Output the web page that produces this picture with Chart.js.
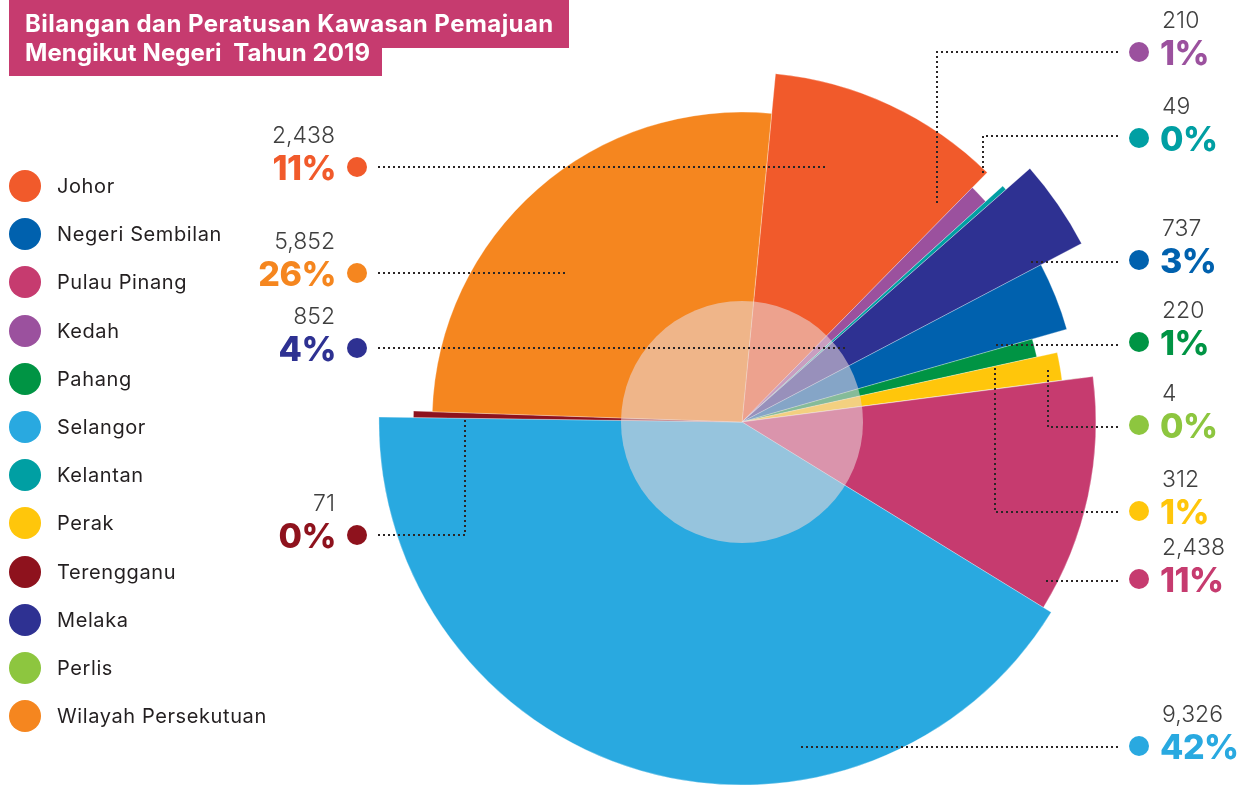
<!DOCTYPE html>
<html>
<head>
<meta charset="utf-8">
<script src="https://cdn.jsdelivr.net/npm/chart.js@4.4.1/dist/chart.umd.min.js"></script>
<style>
  body { margin: 0; background: #fff; width: 1242px; height: 789px; overflow: hidden; position: relative; font-family: Inter, 'Open Sans', sans-serif; }
  #chart { position: absolute; left: 0; top: 0; }
  .topline { position: absolute; left: 9px; top: 0; width: 133px; height: 1px; background: #3d3f66; }
  .tbox { position: absolute; left: 9px; background: #c63b6f; }
  .ttext { position: absolute; left: 25px; color: #fff; font-weight: 700; font-size: 24px; line-height: 1; white-space: nowrap; letter-spacing: 0.45px; }
  .leg { position: absolute; left: 9px; height: 32px; display: flex; align-items: center; }
  .leg i { width: 32px; height: 32px; border-radius: 50%; display: block; }
  .leg span { margin-left: 16px; font-size: 20px; letter-spacing: 0.6px; color: #231f20; white-space: nowrap; }
  .val, .pct { position: absolute; line-height: 1; white-space: nowrap; }
  .val { font-size: 23px; font-weight: 300; color: #3f3f3f; }
  .pct { font-size: 34px; font-weight: 800; letter-spacing: -0.5px; }
</style>
</head>
<body>
<canvas id="chart" width="1242" height="789"></canvas>
<div class="topline"></div>
<div class="tbox" style="top:0;width:560px;height:48px"></div>
<div class="tbox" style="top:48px;width:373px;height:28px"></div>
<div class="ttext" style="top:12px">Bilangan dan Peratusan Kawasan Pemajuan</div>
<div class="ttext" style="top:41px;letter-spacing:0.1px">Mengikut Negeri&nbsp; Tahun 2019</div>
<div id="legend"></div>
<div id="labels"></div>
<script>
// data (clockwise from the top of the pie)
const STATES = ['Johor', 'Kedah', 'Kelantan', 'Melaka', 'Negeri Sembilan', 'Pahang', 'Perak', 'Perlis', 'Pulau Pinang', 'Selangor', 'Terengganu', 'Wilayah Persekutuan'];
const COUNTS = [2438, 210, 49, 852, 737, 220, 312, 4, 2438, 9326, 71, 5852];
const PERCENT_LABELS = ['11%', '1%', '0%', '4%', '3%', '1%', '1%', '0%', '11%', '42%', '0%', '26%'];
const LEGEND_ORDER = ['Johor', 'Negeri Sembilan', 'Pulau Pinang', 'Kedah', 'Pahang', 'Selangor', 'Kelantan', 'Perak', 'Terengganu', 'Melaka', 'Perlis', 'Wilayah Persekutuan'];

// styling
const COLORS = ['#f15a2b', '#9b519e', '#009fa3', '#2e3192', '#0061ae', '#009444', '#ffc60b', '#8dc63f', '#c63b6f', '#29a9e0', '#8e121d', '#f5861f'];
// each slice has its own length, relative to the chart radius
const RADIUS_SCALE = [0.954, 0.896, 0.959, 1.046, 0.921, 0.823, 0.880, 0.932, 0.965, 0.99, 0.896, 0.845];
const HUB_SCALE = 0.33;
const HUB_COLOR = 'rgba(234, 217, 218, 0.57)';

// callout layout: dot row y and dotted leader path
const CALLOUTS = {
    'Johor': { side: 'left', y: 167, path: [[378, 167], [828, 167]] },
    'Kedah': { side: 'right', y: 52, path: [[1118, 52], [937, 52], [937, 205]] },
    'Kelantan': { side: 'right', y: 138, path: [[1118, 136], [983, 136], [983, 173]] },
    'Melaka': { side: 'left', y: 348, path: [[378, 348], [845, 348]] },
    'Negeri Sembilan': { side: 'right', y: 260, path: [[1118, 262], [1029, 262]] },
    'Pahang': { side: 'right', y: 342, path: [[1118, 345], [996, 345]] },
    'Perak': { side: 'right', y: 511, path: [[1118, 512], [995, 512], [995, 366]] },
    'Perlis': { side: 'right', y: 425, path: [[1118, 427], [1048, 427], [1048, 368]] },
    'Pulau Pinang': { side: 'right', y: 579, path: [[1118, 581], [1044, 581]] },
    'Selangor': { side: 'right', y: 746, path: [[1118, 747], [798, 747]] },
    'Terengganu': { side: 'left', y: 535, path: [[378, 535], [465, 535], [465, 417]] },
    'Wilayah Persekutuan': { side: 'left', y: 273, path: [[378, 273], [565, 273]] },
};

// legend
const legendEl = document.getElementById('legend');
LEGEND_ORDER.forEach((name, k) => {
    const i = STATES.indexOf(name);
    const row = document.createElement('div');
    row.className = 'leg';
    row.style.top = (170 + k * 48.2) + 'px';
    row.innerHTML = `<i style="background:${COLORS[i]}"></i><span>${name}</span>`;
    legendEl.appendChild(row);
});

// value + percent labels
const labelsEl = document.getElementById('labels');
STATES.forEach((name, i) => {
    const c = CALLOUTS[name];
    const val = document.createElement('div');
    val.className = 'val';
    val.textContent = COUNTS[i].toLocaleString('en-US');
    const pct = document.createElement('div');
    pct.className = 'pct';
    pct.textContent = PERCENT_LABELS[i];
    pct.style.color = COLORS[i];
    val.style.top = (c.y - 31.5 - 11.5) + 'px';
    pct.style.top = (c.y + 1 - 17) + 'px';
    if (c.side === 'right') {
        val.style.left = '1162px';
        pct.style.left = '1160px';
    } else {
        val.style.right = (1242 - 335) + 'px';
        pct.style.right = (1242 - 336) + 'px';
    }
    labelsEl.appendChild(val);
    labelsEl.appendChild(pct);
});

const sliceRadius = {
    id: 'sliceRadius',
    afterDatasetsUpdate(chart) {
        const meta = chart.getDatasetMeta(0);
        const base = meta.controller.outerRadius;
        meta.data.forEach((arc, i) => { arc.outerRadius = base * RADIUS_SCALE[i]; });
    },
    afterDatasetsDraw(chart) {
        const meta = chart.getDatasetMeta(0);
        const { x, y } = meta.data[0];
        const ctx = chart.ctx;
        ctx.save();
        ctx.fillStyle = HUB_COLOR;
        ctx.beginPath();
        ctx.arc(x, y, meta.controller.outerRadius * HUB_SCALE, 0, Math.PI * 2);
        ctx.fill();

        ctx.setLineDash([2, 3]);
        ctx.lineWidth = 2;
        ctx.strokeStyle = '#2a2526';
        STATES.forEach((name) => {
            const p = CALLOUTS[name].path;
            ctx.beginPath();
            ctx.moveTo(p[0][0], p[0][1]);
            p.slice(1).forEach(pt => ctx.lineTo(pt[0], pt[1]));
            ctx.stroke();
        });
        ctx.setLineDash([]);
        STATES.forEach((name, i) => {
            const c = CALLOUTS[name];
            ctx.fillStyle = COLORS[i];
            ctx.beginPath();
            ctx.arc(c.side === 'right' ? 1139 : 357, c.y, 10, 0, Math.PI * 2);
            ctx.fill();
        });
        ctx.restore();
    }
};

new Chart(document.getElementById('chart').getContext('2d'), {
    type: 'pie',
    data: {
        labels: STATES,
        datasets: [{
            data: COUNTS,
            backgroundColor: COLORS,
            borderColor: 'rgba(255, 255, 255, 0.6)',
            borderWidth: 0.5,
        }]
    },
    options: {
        responsive: false,
        animation: false,
        events: [],
        rotation: 5.5,
        layout: { padding: { left: 242, right: 0, top: 55, bottom: 0 } },
        plugins: {
            legend: { display: false },
            tooltip: { enabled: false }
        }
    },
    plugins: [sliceRadius]
});
</script>
</body>
</html>
